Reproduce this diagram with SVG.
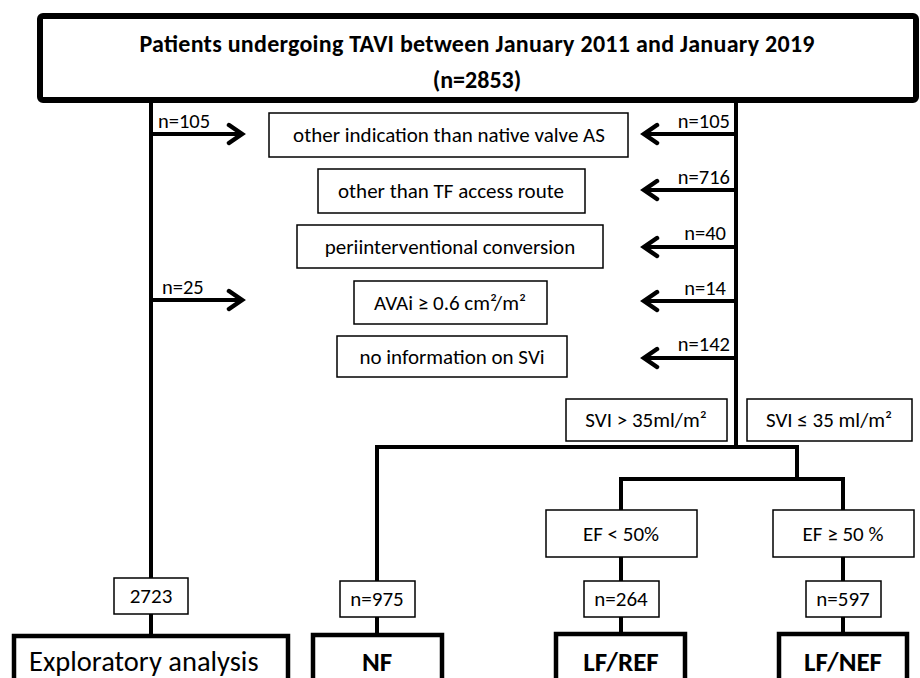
<svg xmlns="http://www.w3.org/2000/svg" width="920" height="678" viewBox="0 0 920 678">
<style>
text{font-family:Carlito,Lato,"Liberation Sans",sans-serif;fill:#000}
.t{font-size:21px}
.n{font-size:20.5px}
.c{text-anchor:middle}
.e{text-anchor:end}
.b{font-weight:bold}
.box{fill:#fff;stroke:#000;stroke-width:1.5}
.big{fill:#fff;stroke:#000;stroke-width:4.5}
.ln{fill:none;stroke:#000;stroke-width:4;stroke-linecap:square}
.ah{fill:none;stroke:#000;stroke-width:4.5;stroke-linecap:round;stroke-linejoin:miter}
</style>
<rect width="920" height="678" fill="#fff"/>
<g id="connectors">
<path class="ln" d="M151,102 V578 M151,614 V634"/>
<path class="ln" d="M736,102 V447 M377,447 H797 M377,447 V581 M377,617 V634 M797,447 V479 M621,479 H843 M621,479 V510 M843,479 V510 M621,557 V581 M843,557 V581 M621,617 V632 M843,617 V632"/>
<path class="ln" d="M151,134 H240 M151,300 H240"/>
<path class="ah" d="M229,125 L242,134 L229,143 M229,291 L242,300 L229,309"/>
<path class="ln" d="M736,134 H646 M736,190 H646 M736,247 H646 M736,301 H646 M736,358 H646"/>
<path class="ah" d="M657,125 L644,134 L657,143 M657,181 L644,190 L657,199 M657,238 L644,247 L657,256 M657,292 L644,301 L657,310 M657,349 L644,358 L657,367"/>
<text class="n" x="158" y="128">n=105</text>
<text class="n" x="162" y="294">n=25</text>
<text class="n e" x="730" y="128">n=105</text>
<text class="n e" x="730" y="184">n=716</text>
<text class="n e" x="726" y="240">n=40</text>
<text class="n e" x="726" y="295">n=14</text>
<text class="n e" x="730" y="351">n=142</text>
</g>
<g id="top">
<rect x="40" y="16" width="876" height="84" rx="3" fill="#fff" stroke="#000" stroke-width="6"/>
<text class="b c" x="477" y="52" font-size="24" textLength="675">Patients undergoing TAVI between January 2011 and January 2019</text>
<text class="b c" x="477" y="88" font-size="24">(n=2853)</text>
</g>
<g id="ex1"><rect class="box" x="269" y="113" width="359" height="44"/><text class="t c" x="449" y="142">other indication than native valve AS</text></g>
<g id="ex2"><rect class="box" x="318" y="169" width="267" height="44"/><text class="t c" x="451" y="198">other than TF access route</text></g>
<g id="ex3"><rect class="box" x="297" y="225" width="306" height="43"/><text class="t c" x="450" y="254">periinterventional conversion</text></g>
<g id="ex4"><rect class="box" x="354" y="281" width="193" height="43"/><text class="t c" x="450" y="310">AVAi ≥ 0.6 cm²/m²</text></g>
<g id="ex5"><rect class="box" x="337" y="336" width="230" height="41"/><text class="t c" x="452" y="364">no information on SVi</text></g>
<g id="svi1"><rect class="box" x="566" y="399" width="161" height="42"/><text class="t c" x="646" y="427">SVI &gt; 35ml/m²</text></g>
<g id="svi2"><rect class="box" x="747" y="399" width="165" height="42"/><text class="t c" x="829" y="427">SVI ≤ 35 ml/m²</text></g>
<g id="ef1"><rect class="box" x="546" y="510" width="151" height="47"/><text class="t c" x="621" y="541">EF &lt; 50%</text></g>
<g id="ef2"><rect class="box" x="773" y="510" width="141" height="47"/><text class="t c" x="843" y="541">EF ≥ 50 %</text></g>
<g id="c2723"><rect class="box" x="114" y="578" width="74" height="36"/><text class="t c" x="151" y="603">2723</text></g>
<g id="c975"><rect class="box" x="340" y="581" width="75" height="36"/><text class="t c" x="377" y="606">n=975</text></g>
<g id="c264"><rect class="box" x="584" y="581" width="75" height="36"/><text class="t c" x="621" y="606">n=264</text></g>
<g id="c597"><rect class="box" x="806" y="581" width="75" height="36"/><text class="t c" x="843" y="606">n=597</text></g>
<g id="explo"><rect class="big" x="14" y="636" width="274" height="60"/><text x="29" y="671" font-size="28.5">Exploratory analysis</text></g>
<g id="nf"><rect class="big" x="313" y="635" width="129" height="60"/><text class="b c" x="377" y="671" font-size="27">NF</text></g>
<g id="lfref"><rect class="big" x="556" y="634" width="129" height="60"/><text class="b c" x="621" y="671" font-size="27">LF/REF</text></g>
<g id="lfnef"><rect class="big" x="779" y="634" width="128" height="60"/><text class="b c" x="843" y="671" font-size="27">LF/NEF</text></g>
</svg>
